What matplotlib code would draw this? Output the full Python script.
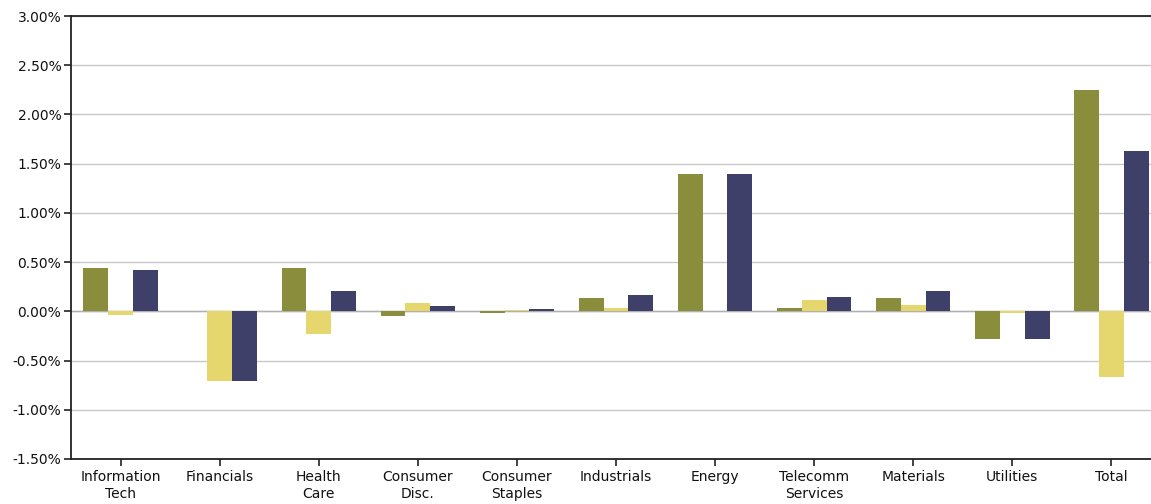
import numpy as np
import matplotlib
matplotlib.use("Agg")
import matplotlib.pyplot as plt
from matplotlib.ticker import FuncFormatter

plt.rcParams['font.family'] = ['DejaVu Sans']

categories = ["Information\nTech", "Financials", "Health\nCare", "Consumer\nDisc.",
              "Consumer\nStaples", "Industrials", "Energy", "Telecomm\nServices",
              "Materials", "Utilities", "Total"]
series_green = [0.44, 0.00, 0.44, -0.05, -0.02, 0.14, 1.40, 0.03, 0.14, -0.28, 2.25]
series_yellow = [-0.04, -0.71, -0.23, 0.08, 0.01, 0.03, 0.00, 0.12, 0.06, -0.02, -0.67]
series_blue = [0.42, -0.71, 0.21, 0.05, 0.02, 0.17, 1.40, 0.15, 0.21, -0.28, 1.63]

colors = ["#8a8d3c", "#e6d66e", "#3e4069"]

fig = plt.figure(figsize=(11.51, 5.04), dpi=100)
ax = fig.add_axes([71 / 1151, 1 - 459 / 504, 1090 / 1151, 443 / 504])

x = np.arange(len(categories))
w = 0.25
for i, (vals, c) in enumerate(zip([series_green, series_yellow, series_blue], colors)):
    ax.bar(x + (i - 1) * w, vals, width=w, color=c, zorder=3)

ax.set_xlim(-0.5, len(categories) - 0.5)
ax.set_ylim(-1.5, 3.0)
ax.set_yticks(np.arange(-1.5, 3.01, 0.5))
ax.yaxis.set_major_formatter(FuncFormatter(lambda v, p: f"{v:.2f}%"))
ax.set_xticks(x)
ax.set_xticklabels(categories, linespacing=1.3)
ax.grid(axis='y', color='#c8c8c8', linewidth=1, zorder=0)
ax.axhline(0, color='#b0b0b0', linewidth=1, zorder=2)

for s in ['top', 'left', 'bottom']:
    ax.spines[s].set_color('#222222')
    ax.spines[s].set_linewidth(1.3)
ax.spines['right'].set_visible(False)
ax.tick_params(axis='both', labelsize=10, color='#222222', labelcolor='#111111',
               length=5, width=1.2)
ax.tick_params(axis='y', pad=2)
ax.tick_params(axis='x', pad=3)

fig.savefig("out.png", dpi=100)
